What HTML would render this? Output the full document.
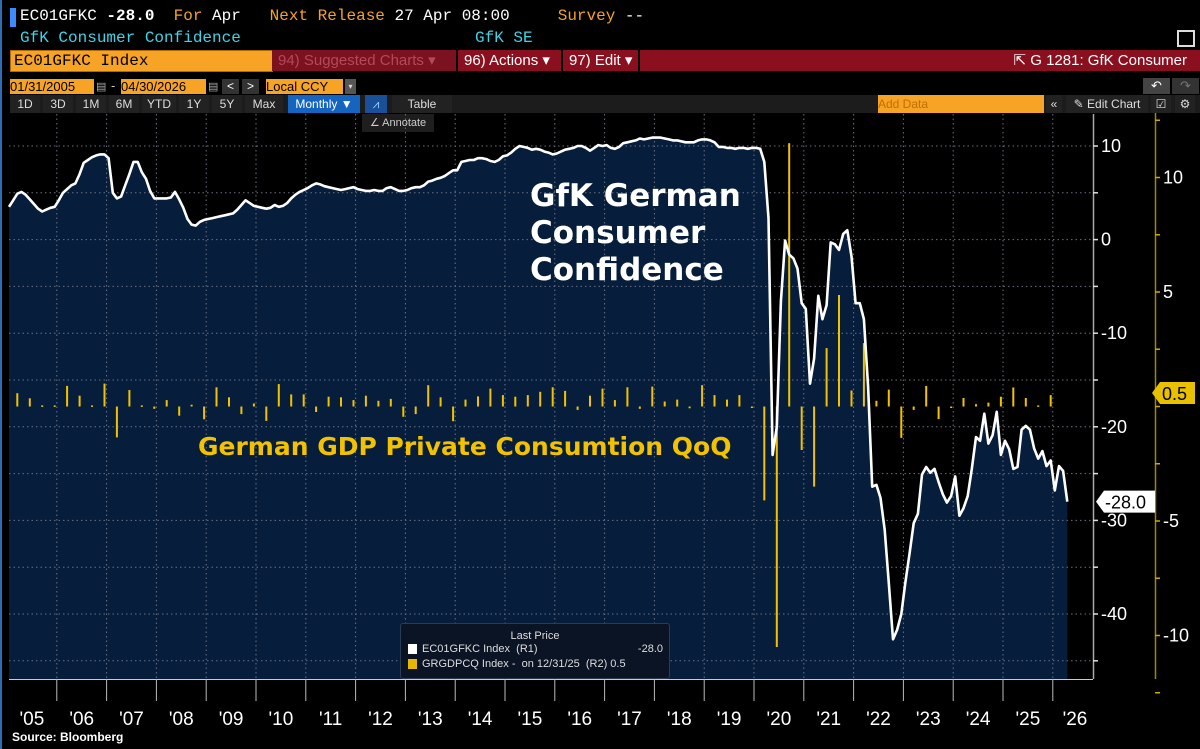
<!DOCTYPE html>
<html><head><meta charset="utf-8">
<style>
body{margin:0;background:#000;width:1200px;height:749px;overflow:hidden;position:relative;font-family:"Liberation Sans",sans-serif}
.a{position:absolute;white-space:nowrap}
.mono{font-family:"Liberation Mono",monospace;font-size:16px}
.btn{position:absolute;top:95px;height:18px;font-size:12px;color:#ddd;line-height:18px;text-align:center;background:#222}
</style></head><body>
<div class="a" style="left:0;top:0;width:2px;height:749px;background:#2d6db5"></div>
<div class="a" style="left:10px;top:8px;width:6px;height:19px;background:#3d8bff"></div>
<div class="a mono" style="left:20px;top:7px;color:#fff"><span>EC01GFKC</span> <b>-28.0</b> &nbsp;<span style="color:#f7a325">For</span> Apr &nbsp;&nbsp;<span style="color:#f7a325">Next Release</span> 27 Apr 08:00 &nbsp;&nbsp;&nbsp;&nbsp;<span style="color:#f7a325">Survey</span> --</div>
<div class="a mono" style="left:20px;top:29px;color:#3fd3e6">GfK Consumer Confidence</div>
<div class="a mono" style="left:475px;top:29px;color:#3fd3e6">GfK SE</div>
<div class="a" style="left:1177px;top:30px;width:14px;height:13px;border:2px solid #ddd"></div>
<div class="a mono" style="left:10px;top:50px;width:258px;height:20px;background:#f7a325;color:#000;line-height:20px;padding-left:3px;border:1px solid #b06a00">EC01GFKC Index</div>
<div class="a" style="left:272px;top:50px;width:184px;height:21px;background:#7c1220;color:#b24a58;font-size:15px;line-height:21px;text-indent:6px">94) Suggested Charts ▾</div>
<div class="a" style="left:458px;top:50px;width:103px;height:21px;background:#8a1020;color:#fff;font-size:15px;line-height:21px;text-indent:6px">96) Actions ▾</div>
<div class="a" style="left:563px;top:50px;width:75px;height:21px;background:#8a1020;color:#fff;font-size:15px;line-height:21px;text-indent:6px">97) Edit ▾</div>
<div class="a" style="left:640px;top:50px;width:560px;height:21px;background:#8a1020;color:#fff;font-size:15px;line-height:21px;text-align:right"><span style="padding-right:13px">⇱ G 1281: GfK Consumer</span></div>
<div class="a" style="left:10px;top:79px;width:84px;height:15px;background:#f7a325;color:#000;font-size:13px;line-height:15px">01/31/2005</div>
<div class="a" style="left:96px;top:80px;color:#aaa;font-size:11px">▤</div>
<div class="a" style="left:111px;top:78px;color:#ccc;font-size:13px">-</div>
<div class="a" style="left:121px;top:79px;width:85px;height:15px;background:#f7a325;color:#000;font-size:13px;line-height:15px">04/30/2026</div>
<div class="a" style="left:208px;top:80px;color:#aaa;font-size:11px">▤</div>
<div class="a" style="left:222px;top:79px;width:17px;height:15px;background:#333;color:#fff;font-size:12px;text-align:center;line-height:15px">&lt;</div>
<div class="a" style="left:242px;top:79px;width:17px;height:15px;background:#333;color:#fff;font-size:12px;text-align:center;line-height:15px">&gt;</div>
<div class="a" style="left:266px;top:79px;width:77px;height:15px;background:#f7a325;color:#000;font-size:13px;line-height:15px">Local CCY</div>
<div class="a" style="left:345px;top:79px;width:11px;height:15px;background:#555;color:#ddd;font-size:8px;text-align:center;line-height:15px">▾</div>
<div class="a" style="left:1143px;top:78px;width:27px;height:16px;background:#444;color:#fff;font-size:13px;text-align:center;line-height:16px">↶</div>
<div class="a" style="left:1172px;top:78px;width:27px;height:16px;background:#333;color:#777;font-size:13px;text-align:center;line-height:16px">↷</div>
<div class="a" style="left:10px;top:95px;width:1190px;height:18px;background:#1c1c1c"></div>
<div class="btn" style="left:10px;width:30px">1D</div>
<div class="btn" style="left:43px;width:30px">3D</div>
<div class="btn" style="left:76px;width:30px">1M</div>
<div class="btn" style="left:109px;width:30px">6M</div>
<div class="btn" style="left:142px;width:34px">YTD</div>
<div class="btn" style="left:179px;width:30px">1Y</div>
<div class="btn" style="left:212px;width:30px">5Y</div>
<div class="btn" style="left:245px;width:38px">Max</div>
<div class="btn" style="left:288px;width:72px;background:#1565c0;color:#fff">Monthly ▼</div>
<div class="btn" style="left:365px;width:22px;background:#1a4f9a;color:#9cf">⩘</div>
<div class="btn" style="left:392px;width:60px">Table</div>
<div class="btn" style="left:878px;width:166px;background:#f7a325;color:#c07000;text-align:left">Add Data</div>
<div class="btn" style="left:1046px;width:16px">«</div>
<div class="btn" style="left:1066px;width:82px">✎ Edit Chart</div>
<div class="btn" style="left:1151px;width:20px">☑</div>
<div class="btn" style="left:1175px;width:20px">⚙</div>
<div class="a" style="left:362px;top:114px;width:72px;height:18px;background:#1e1e1e;color:#ccc;font-size:11px;line-height:18px;text-align:center">∠ Annotate</div>

<svg id="chart" width="1200" height="749" style="position:absolute;left:0;top:0;pointer-events:none" xmlns="http://www.w3.org/2000/svg"></svg>

<div class="a" style="left:400px;top:623px;width:268px;height:54px;background:#0b1424;border:1px solid #2c3b52;border-radius:3px;font-size:11px;color:#ddd">
<div style="position:absolute;left:0;width:268px;top:6px;text-align:center">Last Price</div>
<div style="position:absolute;left:7px;top:20px;width:9px;height:10px;background:#fff"></div>
<div style="position:absolute;left:21px;top:19px">EC01GFKC Index &nbsp;(R1)</div>
<div style="position:absolute;right:6px;top:19px">-28.0</div>
<div style="position:absolute;left:7px;top:35px;width:9px;height:10px;background:#e8b800"></div>
<div style="position:absolute;left:21px;top:34px">GRGDPCQ Index - &nbsp;on 12/31/25 &nbsp;(R2) 0.5</div>
</div>
<div class="a" style="left:12px;top:730px;color:#fff;font-size:12px;font-weight:bold">Source: Bloomberg</div>

<script>
const years = ['05','06','07','08','09','10','11','12','13','14','15','16','17','18','19','20','21','22','23','24','25','26'];
const gfk = [
3.5,4.2,4.9,5.1,4.8,4.3,3.8,3.3,3.0,3.2,3.4,3.5,
4.2,5.0,5.4,5.8,6.0,7.0,8.2,8.5,8.8,9.0,9.1,9.1,
8.7,5.0,4.4,4.6,5.8,7.0,8.3,8.3,7.2,6.5,5.2,4.4,
4.4,4.4,4.4,4.5,5.1,4.3,3.4,2.2,1.6,1.5,1.9,2.1,
2.2,2.3,2.4,2.5,2.6,2.7,2.8,3.2,3.7,4.2,3.9,3.6,
3.5,3.4,3.3,3.4,3.7,3.5,3.6,3.9,4.4,4.8,5.1,5.3,
5.5,5.8,6.0,5.9,5.7,5.6,5.5,5.4,5.3,5.4,5.5,5.6,
5.4,5.3,5.2,5.2,5.3,5.2,5.2,5.5,5.6,5.4,5.2,5.2,
5.3,5.5,5.6,5.6,5.8,6.2,6.3,6.5,6.6,6.8,7.1,7.4,
7.4,8.3,8.4,8.5,8.5,8.7,8.7,8.6,8.4,8.3,8.5,8.9,
9.0,9.3,9.7,10.0,9.9,9.8,9.6,9.7,9.6,9.4,9.3,9.1,
9.2,9.4,9.6,9.7,9.8,10.0,10.0,9.8,9.5,9.8,10.1,10.0,
10.1,9.8,9.7,9.9,10.3,10.4,10.5,10.6,10.8,10.7,10.8,10.9,
10.9,10.9,10.8,10.7,10.6,10.6,10.5,10.4,10.4,10.4,10.6,10.7,
10.7,10.6,10.4,9.9,9.9,9.8,9.8,9.7,9.8,9.8,9.7,9.8,
9.8,9.7,8.3,2.3,-23,-20,-6.6,-0.1,-1.6,-2,-3.1,-6.8,
-7.4,-15.4,-12.7,-6,-8.5,-7,-0.3,-0.5,-1.1,0.6,1.0,-1.8,
-6.8,-6.8,-8.5,-15.7,-26.4,-26.2,-27.6,-31,-36.7,-42.7,-41.7,-40,
-36.6,-33.5,-30.3,-29.3,-25.1,-24.3,-24.9,-24.5,-25.9,-27.2,-28.1,-27.4,
-25.3,-29.5,-28.7,-27.4,-24.5,-21.1,-21.5,-18.6,-21.8,-20.9,-18.4,-23,
-21.5,-22.4,-24.5,-24.3,-20.3,-19.9,-20.3,-22.3,-23.4,-22.6,-24.2,-23.6,
-26.8,-24.2,-24.7,-28];
const gdp = [
0.58,0.36,0.05,0.05,0.9,0.47,0.05,1.0,-1.35,0.72,0.05,-0.1,
0.28,-0.4,0.08,-0.56,0.84,0.4,-0.33,0.13,-0.63,0.98,0.53,0.53,
-0.24,0.43,0.4,0.28,0.47,0.25,0.33,-0.45,-0.33,0.93,0.4,-0.64,
0.3,0.44,0.78,0.5,0.43,0.5,0.64,0.84,0.68,-0.15,0.47,0.78,
0.28,0.84,-0.1,0.87,0.22,0.3,-0.08,0.93,0.5,0.3,0.5,-0.05,
-4.1,-10.5,11.5,-1.9,-3.5,2.55,4.87,0.7,2.77,0.25,0.74,-1.37,
-0.15,0.9,-0.55,-0.05,0.37,0.1,0.17,0.43,0.83,0.37,0.05,0.5];
const r1Ticks = [10,0,-10,-20,-30,-40];
const r2Ticks = [10,5,-5,-10];

const NS='http://www.w3.org/2000/svg';
const svg=document.getElementById('chart');
const X0=9, PM=4.15, PL=9, PR=1093, PT=114, PB=679;
function xm(m){return X0+m*PM;}
function yL(v){return 239.6-9.36*v;}
function yR(v){return 406.5-22.9*v;}
function add(tag,attrs,parent){const e=document.createElementNS(NS,tag);for(const k in attrs)e.setAttribute(k,attrs[k]);(parent||svg).appendChild(e);return e;}

let d='M'+xm(0)+','+PB;
gfk.forEach((v,i)=>{d+=' L'+xm(i).toFixed(1)+','+yL(v).toFixed(1);});
d+=' L'+xm(gfk.length-1).toFixed(1)+','+PB+' Z';
const area=add('path',{d:d,fill:'#061d3b'});



for(let v=10;v>=-45;v-=5){
  const g=add('line',{x1:PL,x2:PR,y1:yL(v),y2:yL(v),stroke:'#6a7080','stroke-width':1,'stroke-dasharray':'1.5,3'});
  
  
}
years.forEach((y,i)=>{
  if(i===0)return;
  const x=X0-2+i*12*PM;
  const g=add('line',{x1:x,x2:x,y1:PT,y2:PB,stroke:'#6a7080','stroke-width':1,'stroke-dasharray':'1.5,3'});
  
  
});

gdp.forEach((v,q)=>{
  const x=xm(q*3+2);
  const y0=yR(0), y1=yR(v);
  const h=Math.max(Math.abs(y1-y0),1.5);
  const b=add('rect',{x:(x-1).toFixed(1),y:Math.min(y0,y1).toFixed(1),width:2,height:h.toFixed(1),fill:'#f2c200'});
  
  
});

let ld='';
gfk.forEach((v,i)=>{ld+=(i?' L':'M')+xm(i).toFixed(1)+','+yL(v).toFixed(1);});
const line=add('path',{d:ld,fill:'none',stroke:'#fff','stroke-width':2.6,'stroke-linejoin':'round'});



['GfK German','Consumer','Confidence'].forEach((t,i)=>{
  const tx=add('text',{x:530,y:206+i*37,fill:'#fff','font-family':'DejaVu Sans, sans-serif','font-weight':'bold','font-size':31});
  tx.textContent=t;
  
  
});
const ga=add('text',{x:198,y:455,fill:'#f2c200','font-family':'DejaVu Sans, sans-serif','font-weight':'bold','font-size':25});
ga.textContent='German GDP Private Consumtion QoQ';



const xl=add('line',{x1:PL,x2:1093,y1:PB+0.5,y2:PB+0.5,stroke:'#ccc','stroke-width':1});


years.forEach((y,i)=>{
  const xs=X0-2+i*12*PM;
  if(i>0){
    const s=add('line',{x1:xs,x2:xs,y1:PB,y2:701,stroke:'#bbb','stroke-width':1});
    
    
  }
  const cx = i===years.length-1 ? 1075 : xs+6*PM;
  const t=add('text',{x:cx,y:725,fill:'#fff','font-size':19,'text-anchor':'middle','font-family':'Liberation Sans, sans-serif'});
  t.textContent="'"+y;
  
  
});

const a1=add('line',{x1:1093.5,x2:1093.5,y1:114,y2:PB,stroke:'#aaa','stroke-width':1.5});


for(let v=10;v>=-45;v-=5){
  const tk=add('line',{x1:1093,x2:1098,y1:yL(v),y2:yL(v),stroke:'#ddd','stroke-width':1.5});
  
  
}
r1Ticks.forEach(v=>{
  const t=add('text',{x:1101,y:yL(v)+6,fill:'#fff','font-size':18,'font-family':'Liberation Sans, sans-serif'});
  t.textContent=(v<0?'-':'')+Math.abs(v);
  
  
});
const a2=add('line',{x1:1155.5,x2:1155.5,y1:113,y2:PB,stroke:'#a48600','stroke-width':1.5});


for(let v=12.5;v>=-12.5;v-=2.5){
  const tk=add('line',{x1:1155,x2:1160,y1:yR(v),y2:yR(v),stroke:'#d0a800','stroke-width':1.5});
  
  
}
r2Ticks.forEach(v=>{
  const t=add('text',{x:1163,y:yR(v)+6,fill:'#fff','font-size':18,'font-family':'Liberation Sans, sans-serif'});
  t.textContent=(v<0?'-':'')+Math.abs(v);
  
  
});
const lastG=gfk[gfk.length-1], ty=yL(lastG);
const tg=add('path',{d:`M1096,${ty} L1104,${ty-11} L1155,${ty-11} L1155,${ty+11} L1104,${ty+11} Z`,fill:'#fff'});


const tt=add('text',{x:1105,y:ty+7,fill:'#000','font-size':18,'font-family':'Liberation Sans, sans-serif'});
tt.textContent=lastG.toFixed(1);


const lastB=gdp[gdp.length-1], by=yR(lastB)-2;
const tg2=add('path',{d:`M1152,${by} L1160,${by-11} L1195,${by-11} L1195,${by+11} L1160,${by+11} Z`,fill:'#e8c000'});


const tt2=add('text',{x:1162,y:by+7,fill:'#000','font-size':18,'font-family':'Liberation Sans, sans-serif'});
tt2.textContent=lastB.toFixed(1);


</script>
</body></html>
